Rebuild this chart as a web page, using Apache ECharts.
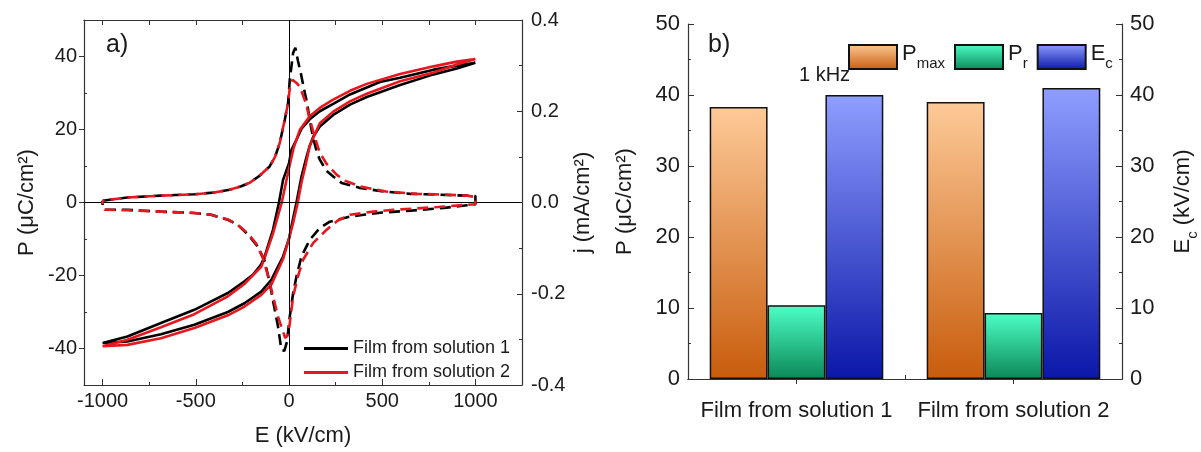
<!DOCTYPE html>
<html>
<head>
<meta charset="utf-8">
<script src="https://cdn.jsdelivr.net/npm/echarts@6/dist/echarts.min.js"></script>
<style>
html,body{margin:0;padding:0;background:#fff;}
#c{width:1201px;height:452px;}
</style>
</head>
<body>
<div id="c"></div>
<script>
// ---------- Panel a) data ----------
const loop1E = [1000, 900, 776, 596, 488, 417, 327, 237, 165, 111, 67, 40, 13, 0, -32, -54, -86, -131, -150, -194, -239, -328, -508, -687, -867, -1000,
  -867, -687, -508, -328, -239, -149, -95, -32, 0, 13, 40, 67, 94, 111, 130, 165, 237, 327, 417, 596, 776, 900, 1000];
const loop1P = [38.3, 37.5, 36.4, 34.2, 33.0, 31.5, 29.6, 27.0, 25.0, 22.8, 20.2, 17.2, 14.4, 10.8, 6.2, 0, -7.5, -14.8, -17.0, -19.8, -21.6, -24.8, -29.4, -33.0, -36.7, -38.5,
  -38.1, -36.1, -33.5, -30.0, -27.6, -24.4, -21.2, -14.8, -9.9, -6.6, 0, 7.1, 12.5, 15.5, 18.0, 20.8, 24.0, 26.8, 28.9, 32.2, 35.1, 36.7, 38.3];

const loop2E = [1000, 900, 776, 596, 417, 327, 237, 165, 111, 58, 25, 0, -39, -86, -131, -149, -239, -328, -508, -687, -867, -1000,
  -867, -687, -508, -328, -239, -149, -95, -32, 0, 20, 47, 67, 90, 111, 165, 237, 327, 417, 596, 776, 900, 1000];
const loop2P = [39.3, 38.6, 37.3, 35.2, 32.5, 30.6, 28.2, 25.9, 23.6, 19.9, 15.0, 9.4, 0, -8.5, -15.2, -17.6, -22.3, -25.7, -30.6, -34.2, -37.6, -39.4,
  -39.0, -37.2, -34.4, -30.9, -28.5, -25.3, -22.5, -15.5, -9.8, -6.0, 0, 5.5, 10.5, 15.5, 21.7, 24.9, 27.7, 29.8, 33.2, 35.6, 37.8, 39.3];

const cur1E = [-1000, -992, -867, -687, -508, -400, -319, -260, -212, -160, -104, -75, -50, -23, -5, 4, 22, 34, 48, 63, 85, 97, 111, 130, 150, 165, 200, 237, 282, 381, 506, 650, 811, 955, 1000,
  1000, 955, 829, 650, 500, 400, 327, 219, 165, 111, 67, 40, 22, 4, -11, -25, -41, -59, -86, -104, -131, -167, -221, -275, -328, -418, -508, -687, -867, -990, -1000, -1000];
const cur1J = [0.004, 0.006, 0.011, 0.015, 0.018, 0.022, 0.028, 0.035, 0.043, 0.058, 0.079, 0.1, 0.13, 0.181, 0.218, 0.269, 0.328, 0.339, 0.31, 0.284, 0.24, 0.218, 0.181, 0.14, 0.11, 0.094, 0.07, 0.057, 0.043, 0.032, 0.024, 0.019, 0.017, 0.015, 0.014,
  -0.004, -0.006, -0.012, -0.018, -0.022, -0.027, -0.031, -0.042, -0.056, -0.082, -0.118, -0.162, -0.199, -0.25, -0.305, -0.325, -0.323, -0.272, -0.215, -0.175, -0.128, -0.097, -0.07, -0.049, -0.038, -0.027, -0.023, -0.020, -0.016, -0.016, -0.01, 0.004];

const cur2E = [-1000, -992, -867, -687, -508, -400, -319, -260, -212, -160, -104, -75, -50, -23, -5, 4, 18, 40, 58, 75, 90, 110, 130, 156, 174, 201, 255, 300, 381, 520, 686, 850, 955, 1000,
  1000, 955, 800, 560, 450, 327, 260, 201, 129, 75, 48, 22, 4, -5, -20, -35, -59, -86, -113, -140, -176, -221, -275, -328, -418, -508, -687, -867, -990, -1000, -1000];
const cur2J = [0.004, 0.006, 0.011, 0.015, 0.018, 0.022, 0.028, 0.035, 0.043, 0.058, 0.079, 0.1, 0.13, 0.181, 0.218, 0.25, 0.269, 0.262, 0.254, 0.235, 0.218, 0.185, 0.155, 0.12, 0.103, 0.085, 0.061, 0.048, 0.035, 0.024, 0.019, 0.017, 0.015, 0.012,
  -0.004, -0.005, -0.010, -0.016, -0.020, -0.027, -0.040, -0.060, -0.089, -0.126, -0.162, -0.206, -0.265, -0.29, -0.297, -0.28, -0.25, -0.205, -0.16, -0.122, -0.09, -0.068, -0.049, -0.037, -0.027, -0.023, -0.020, -0.017, -0.016, -0.01, 0.004];

const eMajorTicks = [-1000, -500, 0, 500, 1000];
const eMinorTicks = [-750, -250, 250, 750];
const pMajorTicks = [-40, -20, 0, 20, 40];
const pMinorTicks = [-30, -10, 10, 30];
const lineNames = ['Film from solution 1', 'Film from solution 2'];

// ---------- Panel b) data ----------
const categories = ['Film from solution 1', 'Film from solution 2'];
const pmaxValues = [38.3, 39.0];
const prValues = [10.4, 9.3];
const ecValues = [40.0, 41.0];

// ---------- helpers ----------
function zip(a, b) { return a.map((v, i) => [v, b[i]]); }
function grad(top, bottom) {
  return new echarts.graphic.LinearGradient(0, 0, 0, 1, [
    { offset: 0, color: top }, { offset: 1, color: bottom }
  ]);
}

const FONT = 'Liberation Sans, Arial, sans-serif';
const TXT = '#1a1a1a';
const AX = '#333';
const RED = '#e8161e';

const chart = echarts.init(document.getElementById('c'), null, { renderer: 'canvas' });

const subRich = {
  m: { fontSize: 22, fontFamily: FONT, color: TXT, verticalAlign: 'top', lineHeight: 26 },
  s: { fontSize: 15, fontFamily: FONT, color: TXT, verticalAlign: 'top', padding: [13, 0, 0, 0] }
};

const option = {
  animation: false,
  backgroundColor: '#fff',
  textStyle: { fontFamily: FONT, color: TXT },
  grid: [
    { left: 84, top: 20, width: 438, height: 366, containLabel: false },
    { left: 688, top: 24, width: 434, height: 355, containLabel: false }
  ],
  xAxis: [
    { // 0 bottom main
      type: 'value', gridIndex: 0, position: 'bottom', min: -1100, max: 1250,
      axisLine: { show: true, onZero: false, lineStyle: { color: AX, width: 1.2 } },
      axisTick: { show: true, inside: true, length: 6, customValues: eMajorTicks, lineStyle: { color: AX } },
      axisLabel: { customValues: eMajorTicks, fontSize: 20, color: TXT, margin: 6, fontFamily: FONT, formatter: v => String(v) },
      splitLine: { show: false },
      name: 'E (kV/cm)', nameLocation: 'middle', nameGap: 40,
      nameTextStyle: { fontSize: 22, color: TXT, fontFamily: FONT }
    },
    { // 1 bottom minor ticks
      type: 'value', gridIndex: 0, position: 'bottom', min: -1100, max: 1250,
      axisLine: { show: false, onZero: false },
      axisTick: { show: true, inside: true, length: 3, customValues: eMinorTicks, lineStyle: { color: AX } },
      axisLabel: { show: false }, splitLine: { show: false }
    },
    { // 2 top mirror
      type: 'value', gridIndex: 0, position: 'top', min: -1100, max: 1250,
      axisLine: { show: true, onZero: false, lineStyle: { color: AX, width: 1.2 } },
      axisTick: { show: true, inside: true, length: 5, customValues: eMajorTicks.concat(eMinorTicks), lineStyle: { color: AX } },
      axisLabel: { show: false }, splitLine: { show: false }
    },
    { // 3 category bottom
      type: 'category', gridIndex: 1, position: 'bottom', data: categories,
      axisLine: { show: true, lineStyle: { color: AX, width: 1.2 } },
      axisTick: { show: true, inside: true, length: 4, lineStyle: { color: AX } },
      axisLabel: { fontSize: 22, color: TXT, margin: 21, fontFamily: FONT, interval: 0, hideOverlap: false },
      splitLine: { show: false }
    },
    { // 4 category top mirror
      type: 'category', gridIndex: 1, position: 'top', data: categories,
      axisLine: { show: true, lineStyle: { color: AX, width: 1.2 } },
      axisTick: { show: true, inside: true, length: 5, alignWithLabel: true, lineStyle: { color: AX } },
      axisLabel: { show: false }, splitLine: { show: false }
    }
  ],
  yAxis: [
    { // 0 P left
      type: 'value', gridIndex: 0, position: 'left', min: -50, max: 50,
      axisLine: { show: true, onZero: false, lineStyle: { color: AX, width: 1.2 } },
      axisTick: { show: true, inside: false, length: 5, customValues: pMajorTicks, lineStyle: { color: AX } },
      axisLabel: { customValues: pMajorTicks, fontSize: 20, color: TXT, margin: 7, fontFamily: FONT },
      splitLine: { show: false },
      name: 'P (μC/cm²)', nameLocation: 'middle', nameGap: 46, nameRotate: 90,
      nameTextStyle: { fontSize: 22, color: TXT, fontFamily: FONT }
    },
    { // 1 j right
      type: 'value', gridIndex: 0, position: 'right', min: -0.4, max: 0.4, interval: 0.2,
      axisLine: { show: true, onZero: false, lineStyle: { color: AX, width: 1.2 } },
      axisTick: { show: true, inside: true, length: 5, lineStyle: { color: AX } },
      minorTick: { show: true, splitNumber: 2, length: 3, lineStyle: { color: AX } },
      axisLabel: { fontSize: 20, color: TXT, margin: 9, fontFamily: FONT, formatter: v => v.toFixed(1) },
      splitLine: { show: false },
      name: 'j (mA/cm²)', nameLocation: 'middle', nameGap: 50, nameRotate: 90,
      nameTextStyle: { fontSize: 22, color: TXT, fontFamily: FONT }
    },
    { // 2 P minor ticks
      type: 'value', gridIndex: 0, position: 'left', min: -50, max: 50,
      axisLine: { show: false, onZero: false },
      axisTick: { show: true, inside: true, length: 3, customValues: pMinorTicks, lineStyle: { color: AX } },
      axisLabel: { show: false }, splitLine: { show: false }
    },
    { // 3 P left (panel b)
      type: 'value', gridIndex: 1, position: 'left', min: 0, max: 50, interval: 10,
      axisLine: { show: true, lineStyle: { color: AX, width: 1.2 } },
      axisTick: { show: true, inside: true, length: 6, lineStyle: { color: AX } },
      minorTick: { show: true, splitNumber: 2, length: 3, lineStyle: { color: AX } },
      axisLabel: { fontSize: 22, color: TXT, margin: 8, fontFamily: FONT },
      splitLine: { show: false },
      name: 'P (μC/cm²)', nameLocation: 'middle', nameGap: 52, nameRotate: 90,
      nameTextStyle: { fontSize: 22, color: TXT, fontFamily: FONT }
    },
    { // 4 Ec right (panel b)
      type: 'value', gridIndex: 1, position: 'right', min: 0, max: 50, interval: 10,
      axisLine: { show: true, lineStyle: { color: AX, width: 1.2 } },
      axisTick: { show: true, inside: true, length: 6, lineStyle: { color: AX } },
      minorTick: { show: true, splitNumber: 2, length: 3, lineStyle: { color: AX } },
      axisLabel: { fontSize: 22, color: TXT, margin: 8, fontFamily: FONT },
      splitLine: { show: false },
      name: '{m|E}{s|c}{m| (kV/cm)}', nameLocation: 'middle', nameGap: 50, nameRotate: 90,
      nameTextStyle: { fontSize: 22, color: TXT, fontFamily: FONT, rich: subRich }
    }
  ],
  legend: [
    {
      data: lineNames, orient: 'vertical', left: 299, top: 333,
      icon: 'rect', itemWidth: 44, itemHeight: 3, itemGap: 3,
      textStyle: { fontSize: 18, color: TXT, fontFamily: FONT, lineHeight: 21 },
      selectedMode: false
    },
    {
      data: ['Pmax', 'Pr', 'Ec'], orient: 'horizontal', left: 843, top: 38,
      icon: 'rect', itemWidth: 48, itemHeight: 24, itemGap: 9,
      textStyle: { fontSize: 22, color: TXT, fontFamily: FONT, rich: subRich },
      formatter: n => n === 'Pmax' ? '{m|P}{s|max}' : (n === 'Pr' ? '{m|P}{s|r}' : '{m|E}{s|c}'),
      selectedMode: false
    }
  ],
  graphic: [
    { type: 'text', left: 106, top: 33, style: { text: 'a)', fontSize: 25, fontFamily: FONT, fill: TXT } },
    { type: 'text', left: 708, top: 33, style: { text: 'b)', fontSize: 25, fontFamily: FONT, fill: TXT } },
    { type: 'text', left: 799, top: 65, style: { text: '1 kHz', fontSize: 20, fontFamily: FONT, fill: TXT } }
  ],
  series: [
    {
      name: lineNames[0], type: 'line', xAxisIndex: 0, yAxisIndex: 0,
      data: zip(loop1E, loop1P), showSymbol: false, symbol: 'none',
      lineStyle: { color: '#000', width: 2.6 }, itemStyle: { color: '#000' }, z: 3,
      markLine: {
        silent: true, symbol: ['none', 'none'], label: { show: false },
        lineStyle: { color: '#000', width: 1, type: 'solid' },
        data: [{ xAxis: 0 }, { yAxis: 0 }]
      }
    },
    {
      name: lineNames[1], type: 'line', xAxisIndex: 0, yAxisIndex: 0,
      data: zip(loop2E, loop2P), showSymbol: false, symbol: 'none',
      lineStyle: { color: RED, width: 2.6 }, itemStyle: { color: RED }, z: 4
    },
    {
      name: 'j1', type: 'line', xAxisIndex: 0, yAxisIndex: 1,
      data: zip(cur1E, cur1J), showSymbol: false, symbol: 'none',
      lineStyle: { color: '#000', width: 2.6, type: [11, 6] }, z: 5
    },
    {
      name: 'j2', type: 'line', xAxisIndex: 0, yAxisIndex: 1,
      data: zip(cur2E, cur2J), showSymbol: false, symbol: 'none',
      lineStyle: { color: RED, width: 2.6, type: [11, 6], dashOffset: 9 }, z: 6
    },
    {
      name: 'Pmax', type: 'bar', xAxisIndex: 3, yAxisIndex: 3, data: pmaxValues,
      barGap: '0%', barCategoryGap: '20%',
      itemStyle: { color: grad('#fdca98', '#c85c0c'), borderColor: '#111', borderWidth: 1.5 }
    },
    {
      name: 'Pr', type: 'bar', xAxisIndex: 3, yAxisIndex: 3, data: prValues,
      barGap: '0%', barCategoryGap: '20%',
      itemStyle: { color: grad('#4dffc6', '#0b8858'), borderColor: '#111', borderWidth: 1.5 }
    },
    {
      name: 'Ec', type: 'bar', xAxisIndex: 3, yAxisIndex: 4, data: ecValues,
      barGap: '0%', barCategoryGap: '20%',
      itemStyle: { color: grad('#8f9eff', '#0b17a8'), borderColor: '#111', borderWidth: 1.5 }
    }
  ]
};
chart.setOption(option);
</script>
</body>
</html>
